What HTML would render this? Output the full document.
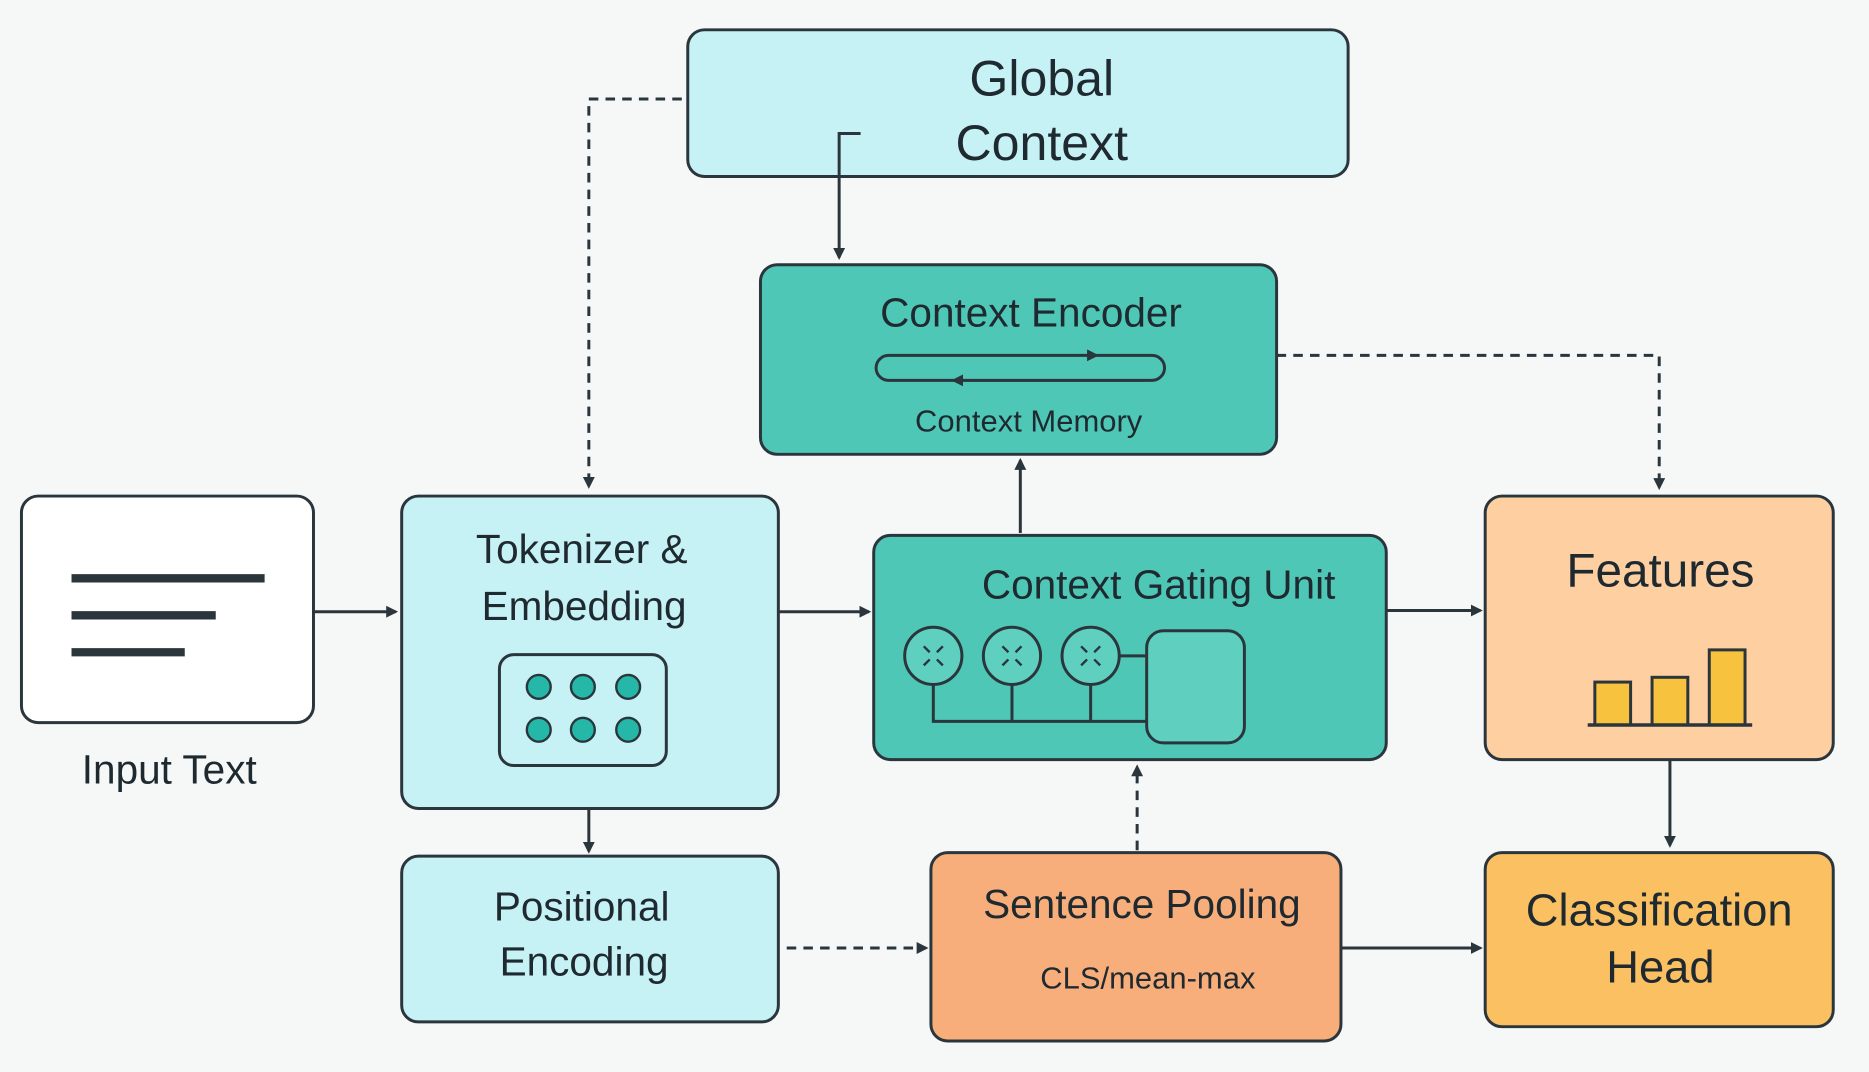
<!DOCTYPE html>
<html><head><meta charset="utf-8"><style>
html,body{margin:0;padding:0;background:#f6f8f8;}
svg{display:block;font-family:"Liberation Sans",sans-serif;}
</style></head><body>
<svg width="1869" height="1072" viewBox="0 0 1568 899" preserveAspectRatio="none">
<defs>
<marker id="a" markerWidth="10" markerHeight="10" refX="8" refY="5" orient="auto" markerUnits="userSpaceOnUse"><path d="M0,0 L10,5 L0,10 z" fill="#2b363c"/></marker>
</defs>
<rect width="1568" height="899" fill="#f6f8f8"/>
<g stroke="#2b363c" stroke-width="2.5" fill="none">
<path d="M572,83 H494 V408" stroke-dasharray="8,6" marker-end="url(#a)"/>
<path d="M1071,298 H1392 V409" stroke-dasharray="8,6" marker-end="url(#a)"/>
<path d="M263,513 H332" marker-end="url(#a)"/>
<path d="M653,513 H729" marker-end="url(#a)"/>
<path d="M856,447 V386" marker-end="url(#a)"/>
<path d="M1163,512 H1242" marker-end="url(#a)"/>
<path d="M1401,637 V709" marker-end="url(#a)"/>
<path d="M494,678 V714" marker-end="url(#a)"/>
<path d="M660,795 H777" stroke-dasharray="8,6" marker-end="url(#a)"/>
<path d="M954,713 V643" stroke-dasharray="8,6" marker-end="url(#a)"/>
<path d="M1125,795 H1242" marker-end="url(#a)"/>
</g>
<g stroke="#2b363c" stroke-width="2.5">
<rect x="577" y="25" width="554" height="123" rx="14" fill="#c6f2f6"/>
<rect x="638" y="222" width="433" height="159" rx="14" fill="#4fc7b7"/>
<rect x="18" y="416" width="245" height="190" rx="14" fill="#ffffff"/>
<rect x="337" y="416" width="316" height="262" rx="14" fill="#c6f2f6"/>
<rect x="733" y="449" width="430" height="188" rx="14" fill="#4fc7b7"/>
<rect x="1246" y="416" width="292" height="221" rx="14" fill="#fdcfa1"/>
<rect x="337" y="718" width="316" height="139" rx="14" fill="#c6f2f6"/>
<rect x="781" y="715" width="344" height="158" rx="14" fill="#f8ae7a"/>
<rect x="1246" y="715" width="292" height="146" rx="14" fill="#fbc062"/>
</g>
<path d="M722,112 H704 V216" stroke="#2b363c" stroke-width="2.5" fill="none" marker-end="url(#a)"/>
<g stroke="#2b363c" stroke-width="7">
<line x1="60" y1="485" x2="222" y2="485"/><line x1="60" y1="516" x2="181" y2="516"/><line x1="60" y1="547" x2="155" y2="547"/>
</g>
<rect x="419" y="549" width="140" height="93" rx="12" fill="#c6f2f6" stroke="#2b363c" stroke-width="2.5"/>
<g fill="#25b8a8" stroke="#2b363c" stroke-width="2">
<circle cx="452" cy="576" r="10"/><circle cx="489" cy="576" r="10"/><circle cx="527" cy="576" r="10"/>
<circle cx="452" cy="612" r="10"/><circle cx="489" cy="612" r="10"/><circle cx="527" cy="612" r="10"/>
</g>
<rect x="735" y="298" width="242" height="21" rx="10.5" fill="none" stroke="#2b363c" stroke-width="2.5"/>
<path d="M750,298 H920" stroke="#2b363c" stroke-width="2" marker-end="url(#a)"/>
<path d="M960,319 H800" stroke="#2b363c" stroke-width="2" marker-end="url(#a)"/>
<g stroke="#2b363c" stroke-width="2.5" fill="none">
<path d="M783,574 V605 H962 M849,574 V605 M915,574 V605 M939,550 H962"/>
<rect x="962" y="529" width="82" height="94" rx="14" fill="#5fd0c0"/>
<circle cx="783" cy="550" r="24" fill="#5fd0c0"/><circle cx="849" cy="550" r="24" fill="#5fd0c0"/><circle cx="915" cy="550" r="24" fill="#5fd0c0"/>
</g>
<g stroke="#2b363c" stroke-width="2" fill="none">
<path d="M775,542 l5,5 M791,542 l-5,5 M775,558 l5,-5 M791,558 l-5,-5"/>
<path d="M841,542 l5,5 M857,542 l-5,5 M841,558 l5,-5 M857,558 l-5,-5"/>
<path d="M907,542 l5,5 M923,542 l-5,5 M907,558 l5,-5 M923,558 l-5,-5"/>
</g>
<g fill="#f7c23e" stroke="#2b363c" stroke-width="2.5">
<rect x="1338" y="572" width="30" height="36"/><rect x="1386" y="568" width="30" height="40"/><rect x="1434" y="545" width="30" height="63"/>
</g>
<line x1="1332" y1="608" x2="1470" y2="608" stroke="#2b363c" stroke-width="3"/>
<g fill="#1f2a30" text-anchor="middle">
<text x="874" y="80" font-size="42">Global</text>
<text x="874" y="134" font-size="42">Context</text>
<text x="865" y="274" font-size="34">Context Encoder</text>
<text x="863" y="362" font-size="26">Context Memory</text>
<text x="142" y="657" font-size="34">Input Text</text>
<text x="488" y="472" font-size="34">Tokenizer &amp;</text>
<text x="490" y="520" font-size="34">Embedding</text>
<text x="972" y="502" font-size="34">Context Gating Unit</text>
<text x="1393" y="492" font-size="40">Features</text>
<text x="488" y="772" font-size="34">Positional</text>
<text x="490" y="818" font-size="34">Encoding</text>
<text x="958" y="770" font-size="34">Sentence Pooling</text>
<text x="963" y="829" font-size="26">CLS/mean-max</text>
<text x="1392" y="776" font-size="38">Classification</text>
<text x="1393" y="824" font-size="38">Head</text>
</g>
</svg>
</body></html>
